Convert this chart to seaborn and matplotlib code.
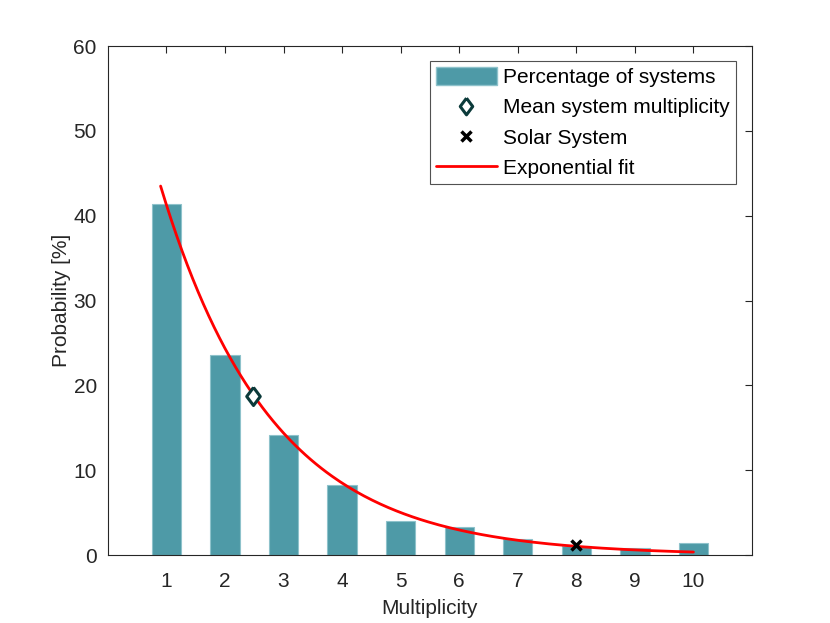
import numpy as np
import pandas as pd
import matplotlib
matplotlib.use("Agg")
import matplotlib.pyplot as plt
import seaborn as sns
from matplotlib.lines import Line2D
from matplotlib.patches import Patch

# Values
multiplicity = [1, 2, 3, 4, 5, 6, 7, 8, 9, 10]
percentage = [41.4, 23.6, 14.2, 8.3, 4.0, 3.3, 1.9, 1.1, 0.8, 1.45]

mean_multiplicity = 2.48
mean_probability = 18.7

solar_multiplicity = 8
solar_probability = 1.15

# Exponential fit y = fit_a * exp(fit_b * x), drawn over this range
fit_a = 69.9
fit_b = -0.527
fit_range = (0.9, 10.0)

bar_color = "#4E9AA7"
text_color = "#262626"

# MATLAB style diamond (a bit wider than matplotlib's thin "d")
diamond = [(0, 1), (0.75, 0), (0, -1), (-0.75, 0), (0, 1)]

sns.set_style("white")
plt.rcParams['font.family'] = ['Liberation Sans', 'DejaVu Sans']

fig = plt.figure(figsize=(8.3, 6.23), dpi=100)
ax = fig.add_axes([0.13, 0.109, 0.776, 0.817])

df = pd.DataFrame({"Multiplicity": multiplicity, "Probability": percentage})
sns.barplot(data=df, x="Multiplicity", y="Probability", native_scale=True,
            width=0.5, color=bar_color, saturation=1, edgecolor="#8EC2CB",
            linewidth=0.8, ax=ax)

fit_x = np.linspace(fit_range[0], fit_range[1], 200)
fit_df = pd.DataFrame({"x": fit_x, "y": fit_a * np.exp(fit_b * fit_x)})
sns.lineplot(data=fit_df, x="x", y="y", color="red", linewidth=2, ax=ax)

ax.plot([mean_multiplicity], [mean_probability], marker=diamond, markersize=13,
        markerfacecolor="white", markeredgecolor="#0B3A3A", markeredgewidth=2.2,
        linestyle="none")
ax.plot([solar_multiplicity], [solar_probability], marker="x", markersize=7,
        color="black", markeredgewidth=2.5, linestyle="none")

ax.set_xlim(0, 11)
ax.set_ylim(0, 60)
ax.set_xticks(multiplicity)
ax.set_yticks(range(0, 61, 10))
ax.set_xlabel("Multiplicity", fontsize=15, color=text_color, labelpad=6)
ax.set_ylabel("Probability [%]", fontsize=15, color=text_color, labelpad=2)
ax.tick_params(direction="in", top=True, right=True, length=5, width=0.8,
               labelsize=15, colors=text_color)
ax.tick_params(axis="x", pad=12)
ax.tick_params(axis="y", pad=8)
for s in ax.spines.values():
    s.set_color(text_color)
    s.set_linewidth(0.8)

handles = [
    Patch(facecolor=bar_color, edgecolor="#8EC2CB"),
    Line2D([], [], marker=diamond, markersize=12, markerfacecolor="white",
           markeredgecolor="#0B3A3A", markeredgewidth=2.2, linestyle="none"),
    Line2D([], [], marker="x", markersize=7, color="black",
           markeredgewidth=2.5, linestyle="none"),
    Line2D([], [], color="red", linewidth=2),
]
labels = ["Percentage of systems", "Mean system multiplicity",
          "Solar System", "Exponential fit"]
leg = ax.legend(handles, labels, loc="upper right", bbox_to_anchor=(0.975, 0.9705),
                fontsize=15, frameon=True, fancybox=False, handlelength=2.9,
                handleheight=0.9, labelspacing=0.5, borderpad=0.3,
                handletextpad=0.3, borderaxespad=0)
leg.get_frame().set_edgecolor(text_color)
leg.get_frame().set_linewidth(0.8)
for t in leg.get_texts():
    t.set_color("black")

fig.savefig("out.png", dpi=100)
